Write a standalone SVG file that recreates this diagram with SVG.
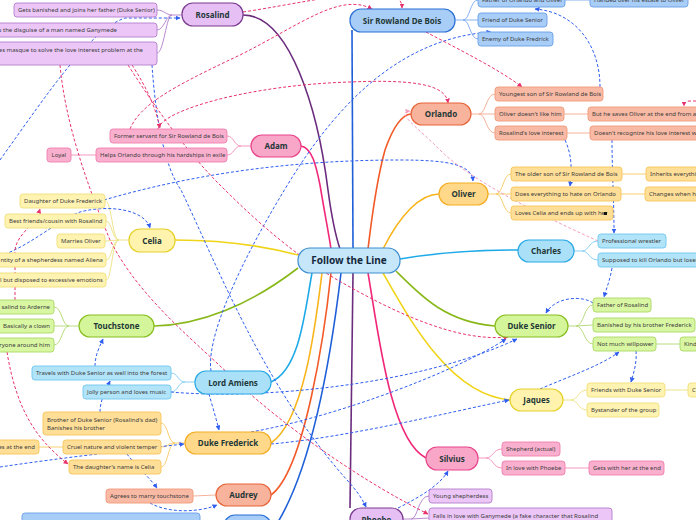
<svg xmlns="http://www.w3.org/2000/svg" width="696" height="520" viewBox="0 0 696 520">
<defs>
<marker id="aB" viewBox="0 0 10 10" refX="9" refY="5" markerWidth="5" markerHeight="5" markerUnits="userSpaceOnUse" orient="auto"><path d="M0,0 L10,5 L0,10 z" fill="#2f5ef0"/></marker>
<marker id="aP" viewBox="0 0 10 10" refX="9" refY="5" markerWidth="5" markerHeight="5" markerUnits="userSpaceOnUse" orient="auto"><path d="M0,0 L10,5 L0,10 z" fill="#e8336d"/></marker>
<marker id="aL" viewBox="0 0 10 10" refX="9" refY="5" markerWidth="5" markerHeight="5" markerUnits="userSpaceOnUse" orient="auto"><path d="M0,0 L10,5 L0,10 z" fill="#f3a0bf"/></marker>
</defs>
<style>
.nt{font-family:"Noto Sans","DejaVu Sans",sans-serif;font-weight:bold;font-size:8px;fill:#1f3838;text-anchor:middle}
.ct{font-size:10px;fill:#14283c}
.lt{font-family:"Noto Sans","DejaVu Sans",sans-serif;font-size:6px;fill:#3c3c3c}
.le{text-anchor:end}
.node{stroke-width:1.2}
.leaf{stroke-width:0.9}
.puN{fill:#e6bff5;stroke:#7a3b8e}.pu{fill:#ebc6f7;stroke:#b47fcc}
.blN{fill:#a8cdf7;stroke:#2b6fd6}.bl{fill:#a8cdf7;stroke:#6a9fe6}
.saN{fill:#f7b39b;stroke:#e8653a}.sa{fill:#f8baa4;stroke:#f19a7c}
.pkN{fill:#f9a7c9;stroke:#e8458b}.pk{fill:#f9b0cf;stroke:#f07fae}
.goN{fill:#ffd88a;stroke:#f4ad22}.go{fill:#ffdf98;stroke:#f6c55a}
.yeN{fill:#fff3ad;stroke:#e6d22a}.ye{fill:#fff3b2;stroke:#efe07a}
.cyN{fill:#aae0f8;stroke:#2aa9e6}.cy{fill:#b2e4f9;stroke:#6fc7ef}
.grN{fill:#d5f59a;stroke:#87be1f}.gr{fill:#d9f6a3;stroke:#aad864}
.m{fill:none;stroke-width:1.6}
.lc{fill:none;stroke-width:0.9}
.dB{fill:none;stroke:#2f5ef0;stroke-width:1;stroke-dasharray:3 2;marker-end:url(#aB)}
.dP{fill:none;stroke:#e8336d;stroke-width:1;stroke-dasharray:3 2;marker-end:url(#aP)}
.dL{fill:none;stroke:#f3a0bf;stroke-width:1;stroke-dasharray:3 2;marker-end:url(#aL)}
</style>
<rect width="696" height="520" fill="#ffffff"/>
<g id="connectors">
<!-- main branches -->
<path class="m" stroke="#6b2c7e" d="M243,15 C290,15 318,110 328,190 C332,220 337,240 340,249"/>
<path class="m" stroke="#f0287a" d="M301,146 C312,148 316,165 320,185 C325,215 329,235 331,249"/>
<path class="m" stroke="#1e5fd8" d="M352,30 L353,249"/>
<path class="m" stroke="#f25a28" d="M411,114 C400,115 392,130 385,150 C378,175 372,215 368,249"/>
<path class="m" stroke="#f8b41a" d="M439,194 C420,194 400,215 383,249"/>
<path class="m" stroke="#1eaae8" d="M400,259 C440,252 480,250 518,250"/>
<path class="m" stroke="#88b818" d="M396,271 C420,295 445,322 495,326"/>
<path class="m" stroke="#f0d418" d="M383,273 C410,320 450,395 510,400"/>
<path class="m" stroke="#f0287a" d="M368,273 C378,330 390,440 426,458"/>
<path class="m" stroke="#6b2c7e" d="M353,273 L350,508"/>
<path class="m" stroke="#f0d418" d="M175,240 C220,240 260,245 298,255"/>
<path class="m" stroke="#88b818" d="M154,326 C200,325 250,305 298,268"/>
<path class="m" stroke="#1eaae8" d="M312,273 C305,310 300,370 271,382"/>
<path class="m" stroke="#f8b41a" d="M322,273 C316,320 305,420 271,443"/>
<path class="m" stroke="#f25a28" d="M331,273 C325,330 305,470 271,495"/>
<path class="m" stroke="#1e5fd8" d="M341,273 C333,340 315,460 278,522"/>
<!-- leaf connectors -->
<path class="lc" stroke="#b27dcc" d="M182,15 L172,15 C166,15 164,10 157,10 M172,15 C166,15 164,30 157,30 M172,15 C166,15 164,53 157,53"/>
<path class="lc" stroke="#78a8ee" d="M455,20 L463,20 C470,20 470,0 478,0 M463,20 L478,20 M463,20 C470,20 470,39 478,39 M565,0 L590,0"/>
<path class="lc" stroke="#f4a98e" d="M471,114 L479,114 C486,114 486,94 495,94 M479,114 L495,114 M479,114 C486,114 486,133 495,133 M564,114 L588,114 M567,133 L590,133 M216,495 L193,496"/>
<path class="lc" stroke="#f28cb8" d="M251,146 L241,146 C234,146 234,136 227,136 M241,146 C234,146 234,155 227,155 M96,155 L71,155 M478,458 L486,458 C493,458 493,449 502,449 M486,458 C493,458 493,468 502,468 M565,468 L589,468"/>
<path class="lc" stroke="#f7c860" d="M488,194 L496,194 C503,194 503,174 511,174 M496,194 L511,194 M496,194 C503,194 503,213 511,213 M622,174 L646,174 M621,194 L645,194 M185,443 L175,443 C168,443 168,423 161,423 M175,443 C168,443 168,447 161,447 M175,443 C168,443 168,467 161,467 M63,447 L39,447"/>
<path class="lc" stroke="#ece080" d="M129,240 L119,240 C112,240 112,201 105,201 M119,240 C112,240 112,221 106,221 M119,240 L105,241 M119,240 C112,240 112,260 106,260 M119,240 C112,240 112,280 106,280 M563,400 L571,400 C578,400 578,390 587,390 M571,400 C578,400 578,410 587,410 M665,390 L688,390"/>
<path class="lc" stroke="#7ccbf0" d="M574,251 L582,251 C589,251 589,241 598,241 M582,251 C589,251 589,260 598,260 M195,382 L185,382 C178,382 178,373 171,373 M185,382 C178,382 178,392 171,392"/>
<path class="lc" stroke="#b0d870" d="M79,326 L69,326 C62,326 62,307 54,307 M69,326 L54,326 M69,326 C62,326 62,345 54,345 M568,326 L576,326 C584,326 584,305 593,305 M576,326 L593,325 M576,326 C584,326 584,344 593,344 M656,344 L680,344"/>
<path class="lc" stroke="#b27dcc" d="M403,519 L411,519 C418,519 418,496 429,496 M411,519 L429,518"/>
<!-- relation connectors -->
<path class="dB" d="M600,87 C600,45 575,12 535,9"/>
<path class="dB" d="M211,371 C205,330 255,235 300,165 C340,105 400,38 491,32"/>
<path class="dB" d="M209,394 C212,405 216,418 219,430"/>
<path class="dB" d="M104,200 C200,172 300,160 400,160 C450,160 472,165 473,181"/>
<path class="dB" d="M0,256 C30,246 55,222 80,212 C110,204 145,210 150,228"/>
<path class="dB" d="M152,65 C155,110 163,165 181,190 C215,260 262,385 347,480 C356,490 362,498 366,507"/>
<path class="dB" d="M398,508 C420,497 440,485 448,471"/>
<path class="dB" d="M171,392 C260,400 420,385 517,339"/>
<path class="dB" d="M251,432 C330,418 450,375 506,339"/>
<path class="dB" d="M271,444 C350,437 450,412 509,400"/>
<path class="dB" d="M540,389 C570,376 600,366 619,352"/>
<path class="dB" d="M636,351 C637,362 634,372 631,382"/>
<path class="dB" d="M612,268 C610,280 606,290 604,297"/>
<path class="dB" d="M612,140 C612,170 614,200 614,233"/>
<path class="dB" d="M565,140 C572,155 572,170 570,186"/>
<path class="dB" d="M593,303 C582,295 555,297 546,313"/>
<path class="dB" d="M0,160 C50,90 90,30 125,18 L180,18"/>
<path class="dB" d="M100,412 C100,400 106,390 110,381"/>
<path class="dB" d="M95,366 C95,355 100,346 103,339"/>
<path class="dB" d="M0,467 C60,458 130,450 184,444"/>
<path class="dB" d="M127,454 C135,465 150,478 157,488"/>
<path class="dB" d="M150,503 C170,514 200,512 217,505"/>
<path class="dP" d="M158,129 C162,110 250,85 350,82 C420,79 446,86 448,103"/>
<path class="dP" d="M130,129 C140,105 170,88 240,55 C300,25 340,-8 372,9"/>
<path class="dP" d="M132,65 C145,85 155,105 160,128"/>
<path class="dP" d="M60,65 C65,120 85,180 110,240 C140,300 200,345 240,385 C290,430 360,480 428,514"/>
<path class="dP" d="M128,65 C160,115 190,155 220,185 C260,225 300,260 350,287 C400,315 460,342 508,337"/>
<path class="dP" d="M243,12 C290,5 330,-5 370,-6 C395,-6 402,-2 402,8"/>
<path class="dP" d="M426,32 C460,50 500,70 522,87"/>
<path class="dP" d="M696,101 L690,101 C686,101 684,103 684,106"/>
<path class="dP" d="M15,300 L15,252 C15,235 35,226 40,209"/>
<path class="dP" d="M7,352 C15,400 30,435 68,464"/>
<path class="dL" d="M598,241 C540,215 470,180 440,150 C415,125 395,112 410,111"/>
</g>
<g id="center"><rect class="node" x="298" y="248" width="102" height="25" rx="12" fill="#c6e7f9" stroke="#3d8fd1"/><text class="nt ct" x="349" y="264">Follow the Line</text></g>
<g id="rosalind"><rect class="node puN" x="182" y="3" width="61" height="23" rx="11"/><text class="nt" x="212.5" y="17.5">Rosalind</text></g>
<g id="rosalind-l1"><rect class="leaf pu" x="14" y="3" width="143" height="14" rx="3"/><text class="lt" x="18" y="12.2">Gets banished and joins her father (Duke Senior)</text></g>
<g id="rosalind-l2"><rect class="leaf pu" x="-8" y="23" width="165" height="14" rx="3"/><text class="lt le" x="117" y="32.2">s the disguise of a man named Ganymede</text></g>
<g id="rosalind-l3"><rect class="leaf pu" x="-8" y="42" width="165" height="23" rx="3"/><text class="lt le" x="143" y="52">es masque to solve the love interest problem at the</text></g>
<g id="rowland"><rect class="node blN" x="350" y="9" width="105" height="23" rx="11"/><text class="nt" x="402" y="23.5">Sir Rowland De Bois</text></g>
<g id="rowland-l1"><rect class="leaf bl" x="478" y="-7" width="87" height="14" rx="3"/><text class="lt" x="482" y="2.2">Father of Orlando and Oliver</text></g>
<g id="rowland-l2"><rect class="leaf bl" x="590" y="-7" width="98" height="14" rx="3"/><text class="lt" x="594" y="2.2">Handed over his estate to Oliver</text></g>
<g id="rowland-l3"><rect class="leaf bl" x="478" y="13" width="69" height="14" rx="3"/><text class="lt" x="482" y="22.2">Friend of Duke Senior</text></g>
<g id="rowland-l4"><rect class="leaf bl" x="478" y="32" width="75" height="14" rx="3"/><text class="lt" x="482" y="41.2">Enemy of Duke Fredrick</text></g>
<g id="orlando"><rect class="node saN" x="411" y="103" width="60" height="22" rx="11"/><text class="nt" x="441" y="117">Orlando</text></g>
<g id="orlando-l1"><rect class="leaf sa" x="495" y="87" width="108" height="14" rx="3"/><text class="lt" x="499" y="96.2">Youngest son of Sir Rowland de Bois</text></g>
<g id="orlando-l2"><rect class="leaf sa" x="495" y="107" width="69" height="14" rx="3"/><text class="lt" x="499" y="116.2">Oliver doesn't like him</text></g>
<g id="orlando-l3"><rect class="leaf sa" x="495" y="126" width="72" height="14" rx="3"/><text class="lt" x="499" y="135.2">Rosalind's love interest</text></g>
<g id="orlando-l4"><rect class="leaf sa" x="588" y="107" width="115" height="14" rx="3"/><text class="lt" x="592" y="116.2">But he saves Oliver at the end from a</text></g>
<g id="orlando-l5"><rect class="leaf sa" x="590" y="126" width="115" height="14" rx="3"/><text class="lt" x="594" y="135.2">Doesn't recognize his love interest w</text></g>
<g id="adam"><rect class="node pkN" x="251" y="135" width="50" height="22" rx="11"/><text class="nt" x="276" y="149">Adam</text></g>
<g id="adam-l1"><rect class="leaf pk" x="110" y="129" width="117" height="14" rx="3"/><text class="lt" x="114" y="138.2">Former servant for Sir Rowland de Bois</text></g>
<g id="adam-l2"><rect class="leaf pk" x="96" y="148" width="131" height="14" rx="3"/><text class="lt" x="100" y="157.2">Helps Orlando through his hardships in exile</text></g>
<g id="adam-l3"><rect class="leaf pk" x="47" y="148" width="24" height="14" rx="3"/><text class="lt" x="51.5" y="157.2">Loyal</text></g>
<g id="oliver"><rect class="node goN" x="439" y="183" width="49" height="22" rx="11"/><text class="nt" x="463.5" y="197">Oliver</text></g>
<g id="oliver-l1"><rect class="leaf go" x="511" y="167" width="111" height="14" rx="3"/><text class="lt" x="515" y="176.2">The older son of Sir Rowland de Bois</text></g>
<g id="oliver-l2"><rect class="leaf go" x="511" y="187" width="110" height="14" rx="3"/><text class="lt" x="515" y="196.2">Does everything to hate on Orlando</text></g>
<g id="oliver-l3"><rect class="leaf go" x="511" y="206" width="102" height="14" rx="3"/><text class="lt" x="515" y="215.2">Loves Celia and ends up with her</text><rect x="604" y="212" width="3" height="3" fill="#111"/></g>
<g id="oliver-l4"><rect class="leaf go" x="646" y="167" width="60" height="14" rx="3"/><text class="lt" x="650" y="176.2">Inherits everything</text></g>
<g id="oliver-l5"><rect class="leaf go" x="645" y="187" width="60" height="14" rx="3"/><text class="lt" x="649" y="196.2">Changes when he</text></g>
<g id="celia"><rect class="node yeN" x="129" y="229" width="46" height="23" rx="11"/><text class="nt" x="152" y="243.5">Celia</text></g>
<g id="celia-l1"><rect class="leaf ye" x="20" y="194" width="85" height="14" rx="3"/><text class="lt" x="24" y="203.2">Daughter of Duke Frederick</text></g>
<g id="celia-l2"><rect class="leaf ye" x="5" y="214" width="101" height="14" rx="3"/><text class="lt" x="9" y="223.2">Best friends/cousin with Rosalind</text></g>
<g id="celia-l3"><rect class="leaf ye" x="57" y="234" width="48" height="14" rx="3"/><text class="lt" x="61" y="243.2">Marries Oliver</text></g>
<g id="celia-l4"><rect class="leaf ye" x="-8" y="253" width="114" height="14" rx="3"/><text class="lt le" x="103" y="262.2">ntity of a shepherdess named Aliena</text></g>
<g id="celia-l5"><rect class="leaf ye" x="-8" y="273" width="114" height="14" rx="3"/><text class="lt le" x="103" y="282.2">l but disposed to excessive emotions</text></g>
<g id="charles"><rect class="node cyN" x="518" y="240" width="56" height="22" rx="11"/><text class="nt" x="546" y="254">Charles</text></g>
<g id="charles-l1"><rect class="leaf cy" x="598" y="234" width="68" height="14" rx="3"/><text class="lt" x="602" y="243.2">Professional wrestler</text></g>
<g id="charles-l2"><rect class="leaf cy" x="598" y="253" width="105" height="14" rx="3"/><text class="lt" x="602" y="262.2">Supposed to kill Orlando but loses</text></g>
<g id="touchstone"><rect class="node grN" x="79" y="315" width="75" height="22" rx="11"/><text class="nt" x="116.5" y="329">Touchstone</text></g>
<g id="touchstone-l1"><rect class="leaf gr" x="-8" y="300" width="62" height="14" rx="3"/><text class="lt le" x="50" y="309.2">salind to Arderne</text></g>
<g id="touchstone-l2"><rect class="leaf gr" x="-8" y="319" width="62" height="14" rx="3"/><text class="lt" x="3" y="328.2">Basically a clown</text></g>
<g id="touchstone-l3"><rect class="leaf gr" x="-8" y="338" width="62" height="14" rx="3"/><text class="lt le" x="50" y="347.2">ryone around him</text></g>
<g id="dukesenior"><rect class="node grN" x="495" y="315" width="73" height="22" rx="11"/><text class="nt" x="531.5" y="329">Duke Senior</text></g>
<g id="dukesenior-l1"><rect class="leaf gr" x="593" y="298" width="58" height="14" rx="3"/><text class="lt" x="597" y="307.2">Father of Rosalind</text></g>
<g id="dukesenior-l2"><rect class="leaf gr" x="593" y="318" width="102" height="14" rx="3"/><text class="lt" x="597" y="327.2">Banished by his brother Frederick</text></g>
<g id="dukesenior-l3"><rect class="leaf gr" x="593" y="337" width="63" height="14" rx="3"/><text class="lt" x="597" y="346.2">Not much willpower</text></g>
<g id="dukesenior-l4"><rect class="leaf gr" x="680" y="337" width="40" height="14" rx="3"/><text class="lt" x="684" y="346.2">Kind</text></g>
<g id="amiens"><rect class="node cyN" x="195" y="371" width="76" height="23" rx="11"/><text class="nt" x="233" y="385.5">Lord Amiens</text></g>
<g id="amiens-l1"><rect class="leaf cy" x="32" y="366" width="139" height="14" rx="3"/><text class="lt" x="36" y="375.2">Travels with Duke Senior as well into the forest</text></g>
<g id="amiens-l2"><rect class="leaf cy" x="83" y="385" width="88" height="14" rx="3"/><text class="lt" x="87" y="394.2">Jolly person and loves music</text></g>
<g id="jaques"><rect class="node yeN" x="510" y="389" width="53" height="22" rx="11"/><text class="nt" x="536.5" y="403">Jaques</text></g>
<g id="jaques-l1"><rect class="leaf ye" x="587" y="383" width="78" height="14" rx="3"/><text class="lt" x="591" y="392.2">Friends with Duke Senior</text></g>
<g id="jaques-l2"><rect class="leaf ye" x="587" y="403" width="72" height="14" rx="3"/><text class="lt" x="591" y="412.2">Bystander of the group</text></g>
<g id="jaques-l3"><rect class="leaf ye" x="688" y="383" width="30" height="14" rx="3"/><text class="lt" x="692" y="392.2">C</text></g>
<g id="dukefrederick"><rect class="node goN" x="185" y="432" width="86" height="22" rx="11"/><text class="nt" x="228" y="446">Duke Frederick</text></g>
<g id="dukefrederick-l1"><rect class="leaf go" x="43" y="412" width="118" height="23" rx="3"/><text class="lt" x="47" y="421.5">Brother of Duke Senior (Rosalind's dad)</text><text class="lt" x="47" y="429.8">Banishes his brother</text></g>
<g id="dukefrederick-l2"><rect class="leaf go" x="63" y="440" width="98" height="14" rx="3"/><text class="lt" x="67" y="449.2">Cruel nature and violent temper</text></g>
<g id="dukefrederick-l3"><rect class="leaf go" x="69" y="460" width="92" height="14" rx="3"/><text class="lt" x="73" y="469.2">The daughter's name is Celia</text></g>
<g id="dukefrederick-l4"><rect class="leaf go" x="-8" y="440" width="47" height="14" rx="3"/><text class="lt le" x="35" y="449.2">es at the end</text></g>
<g id="silvius"><rect class="node pkN" x="426" y="447" width="52" height="23" rx="11"/><text class="nt" x="452" y="461.5">Silvius</text></g>
<g id="silvius-l1"><rect class="leaf pk" x="502" y="442" width="58" height="14" rx="3"/><text class="lt" x="506" y="451.2">Shepherd (actual)</text></g>
<g id="silvius-l2"><rect class="leaf pk" x="502" y="461" width="63" height="14" rx="3"/><text class="lt" x="506" y="470.2">In love with Phoebe</text></g>
<g id="silvius-l3"><rect class="leaf pk" x="589" y="461" width="75" height="14" rx="3"/><text class="lt" x="593" y="470.2">Gets with her at the end</text></g>
<g id="audrey"><rect class="node saN" x="216" y="484" width="55" height="22" rx="11"/><text class="nt" x="243.5" y="498">Audrey</text></g>
<g id="audrey-l1"><rect class="leaf sa" x="106" y="489" width="87" height="14" rx="3"/><text class="lt" x="110" y="498.2">Agrees to marry touchstone</text></g>
<g id="phoebe"><rect class="node puN" x="350" y="508" width="53" height="23" rx="11"/><text class="nt" x="376.5" y="523">Phoebe</text></g>
<g id="phoebe-l1"><rect class="leaf pu" x="429" y="489" width="63" height="14" rx="3"/><text class="lt" x="433" y="498.2">Young shepherdess</text></g>
<g id="phoebe-l2"><rect class="leaf pu" x="429" y="508" width="183" height="20" rx="3"/><text class="lt" x="433" y="517.5">Falls in love with Ganymede (a fake character that Rosalind</text></g>
<g id="bottom-node"><rect class="node blN" x="224" y="515" width="47" height="23" rx="11"/></g>
<g id="bottom-leaf"><rect class="leaf bl" x="22" y="513" width="178" height="14" rx="3"/></g>
</svg>
